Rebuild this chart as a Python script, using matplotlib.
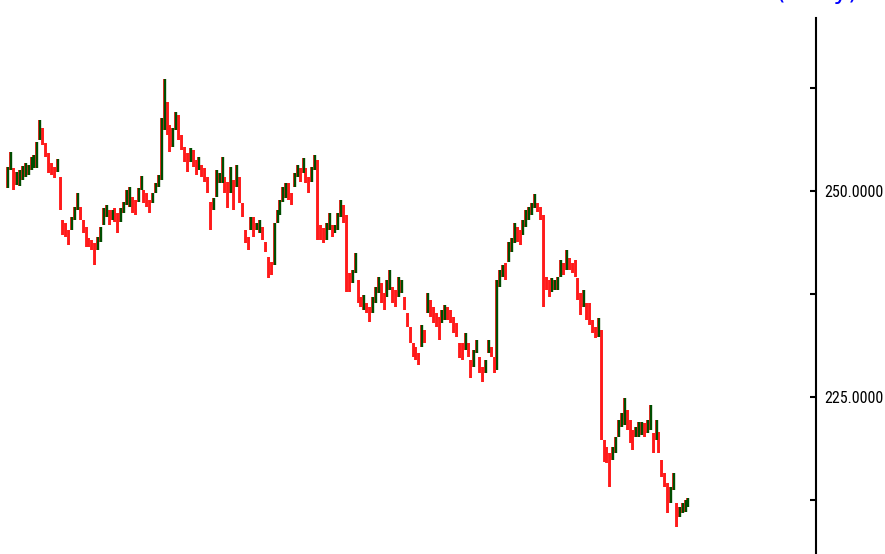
import numpy as np
import matplotlib
matplotlib.use("Agg")
import matplotlib.pyplot as plt
from matplotlib import font_manager

# daily bars: high / low prices
highs = [252.9, 254.7, 252.8, 252.3, 252.6, 253.0, 253.4, 253.2, 254.1, 254.4,
         256.0, 258.6, 257.7, 255.8, 254.6, 253.4, 252.9, 253.9, 251.7, 246.5,
         246.1, 245.3, 246.8, 248.1, 249.8, 248.1, 246.5, 245.6, 244.3, 244.1,
         243.7, 244.4, 245.6, 247.9, 248.3, 247.7, 247.7, 247.9, 247.3, 247.9,
         248.7, 250.1, 250.5, 249.3, 248.9, 250.4, 251.8, 250.1, 249.8, 248.9,
         249.8, 251.0, 251.9, 258.9, 263.6, 260.8, 258.0, 257.7, 259.6, 259.2,
         256.8, 255.3, 254.6, 255.2, 255.0, 253.8, 254.1, 253.2, 252.8, 251.7,
         248.7, 249.2, 252.6, 252.2, 254.1, 251.7, 251.1, 252.9, 251.3, 253.2,
         251.7, 248.5, 245.3, 244.4, 246.8, 246.8, 246.1, 246.5, 245.6, 243.8,
         242.0, 241.4, 246.1, 247.7, 248.9, 250.5, 251.0, 251.0, 249.8, 252.2,
         253.2, 252.8, 254.0, 252.8, 251.7, 252.9, 254.4, 253.8, 245.9, 245.5,
         246.1, 247.3, 245.9, 245.9, 247.3, 248.9, 248.3, 247.1, 240.1, 240.4,
         242.5, 239.2, 237.1, 237.4, 236.4, 235.9, 237.1, 238.4, 239.6, 238.8,
         237.6, 239.2, 240.4, 238.4, 238.0, 239.6, 239.2, 237.1, 235.2, 233.5,
         231.6, 231.1, 230.3, 233.7, 233.1, 237.6, 236.8, 235.9, 235.2, 234.7,
         235.6, 236.2, 235.9, 235.6, 234.7, 234.0, 231.6, 231.6, 232.8, 231.6,
         229.5, 230.7, 231.9, 229.9, 228.6, 229.5, 231.9, 231.1, 229.9, 239.2,
         240.4, 241.0, 241.3, 243.8, 244.3, 246.1, 245.6, 245.3, 246.5, 247.7,
         248.1, 248.5, 249.6, 248.5, 248.1, 247.1, 239.6, 239.2, 239.4, 239.2,
         239.6, 241.6, 241.3, 242.8, 241.9, 241.3, 241.6, 239.4, 237.6, 238.0,
         236.4, 236.4, 234.3, 233.5, 234.6, 233.1, 219.8, 218.9, 218.2, 218.9,
         220.2, 222.2, 223.1, 224.9, 223.4, 222.2, 221.0, 221.4, 222.0, 222.0,
         221.9, 222.2, 224.0, 220.6, 222.2, 220.8, 217.4, 215.8, 214.6, 214.1,
         215.8, 212.1, 211.7, 212.1, 212.5, 212.7]
lows = [250.4, 252.6, 250.1, 250.7, 250.6, 251.3, 251.7, 251.9, 252.6, 252.8,
        252.8, 256.2, 255.6, 254.1, 252.2, 251.9, 251.6, 252.3, 247.7, 244.7,
        244.4, 243.4, 245.3, 246.5, 247.7, 246.5, 244.9, 243.2, 243.2, 242.8,
        241.0, 242.8, 243.8, 245.9, 246.8, 245.9, 246.5, 246.2, 244.9, 246.2,
        247.3, 248.3, 248.1, 247.3, 247.1, 248.7, 250.1, 248.5, 248.1, 247.3,
        248.5, 249.8, 250.5, 251.3, 257.4, 256.8, 254.7, 255.3, 257.4, 256.2,
        255.0, 253.5, 252.3, 253.5, 252.9, 251.9, 252.6, 251.7, 251.1, 249.8,
        245.3, 247.7, 249.3, 251.0, 251.0, 249.8, 247.9, 249.8, 247.7, 250.5,
        248.5, 246.8, 243.7, 242.8, 245.3, 244.4, 245.3, 244.9, 244.1, 242.6,
        239.4, 239.8, 241.0, 246.1, 247.1, 248.7, 249.2, 248.9, 248.3, 250.5,
        251.7, 251.1, 252.2, 251.0, 249.8, 251.1, 252.6, 244.1, 244.1, 243.7,
        244.1, 245.3, 244.4, 244.9, 245.3, 246.8, 246.1, 237.7, 237.7, 238.8,
        240.1, 236.4, 235.9, 235.6, 235.2, 234.1, 235.2, 236.4, 237.6, 236.4,
        235.6, 237.1, 238.0, 236.4, 235.9, 237.1, 237.6, 235.6, 233.5, 231.6,
        229.9, 229.5, 228.9, 231.1, 231.6, 235.2, 234.7, 234.0, 233.5, 231.9,
        234.0, 234.3, 234.3, 234.0, 232.8, 232.3, 229.7, 229.5, 230.7, 229.9,
        227.3, 228.6, 230.3, 227.9, 226.8, 227.9, 230.3, 229.9, 227.9, 228.3,
        238.4, 239.6, 239.2, 241.4, 242.6, 243.7, 243.8, 243.4, 244.7, 245.6,
        246.5, 247.1, 247.9, 247.5, 246.5, 235.9, 238.0, 237.1, 237.7, 238.0,
        238.0, 239.6, 239.8, 240.4, 240.4, 240.1, 239.6, 236.8, 235.0, 235.9,
        234.3, 233.7, 232.8, 232.2, 232.3, 219.8, 217.1, 217.0, 214.1, 217.4,
        218.2, 220.2, 221.4, 221.6, 221.0, 219.4, 218.6, 220.2, 220.2, 220.4,
        220.2, 220.6, 221.0, 218.2, 219.8, 218.2, 215.3, 214.1, 210.9, 212.1,
        213.7, 209.2, 210.4, 210.9, 211.0, 211.7]

yticks_major = [225.0, 250.0]
yticks_minor = [212.5, 237.5, 262.5]
ylabels = ["225.0000", "250.0000"]

highs = np.array(highs)
lows = np.array(lows)
n = len(highs)
idx = np.arange(n)

# up / down colouring from the bar midpoints
mid = (highs + lows) / 2
up = np.r_[True, mid[1:] >= mid[:-1]]

# a narrow face for the price labels if one is around
names = {f.name for f in font_manager.fontManager.ttflist}
label_font = "Liberation Sans"
for cand in ["Liberation Sans Narrow", "Roboto Condensed", "Open Sans Condensed",
             "DejaVu Sans Condensed"]:
    if cand in names:
        label_font = cand
        break
label_size = 10 if label_font == "Liberation Sans" else 11.5

fig = plt.figure(figsize=(8.85, 5.54), dpi=100)
ax = fig.add_axes([0, 0, 816 / 885, 1 - 18 / 554])

# thin red wick for every bar, dark green body on rising bars
ax.vlines(idx - 0.2, lows, highs, colors="#ff0000", linewidth=1.2)
ax.vlines(idx[up] + 0.15, lows[up], highs[up], colors="#004d00",
          linewidth=1.7)
ax.vlines(idx[~up] + 0.15, lows[~up], highs[~up], colors="#ff1a1a",
          linewidth=1.4)

step = 680 / (n - 1)
ax.set_xlim(-8 / step, (816 - 8) / step)
ax.set_ylim(205.95, 271.0)

for s in ["top", "left", "bottom"]:
    ax.spines[s].set_visible(False)
ax.spines["right"].set_linewidth(1.5)
ax.set_xticks([])
ax.yaxis.tick_right()
ax.set_yticks(yticks_major)
ax.set_yticklabels(ylabels, family=label_font, fontsize=label_size)
ax.set_yticks(yticks_minor, minor=True)
ax.tick_params(axis="y", which="both", direction="in", length=4, width=1.5,
               pad=6)

fig.text(0.97, 1 + 1 / 554, "(Daily)", color="blue", fontsize=18,
         ha="right", va="baseline")

fig.savefig("out.png", dpi=100, facecolor="white")
